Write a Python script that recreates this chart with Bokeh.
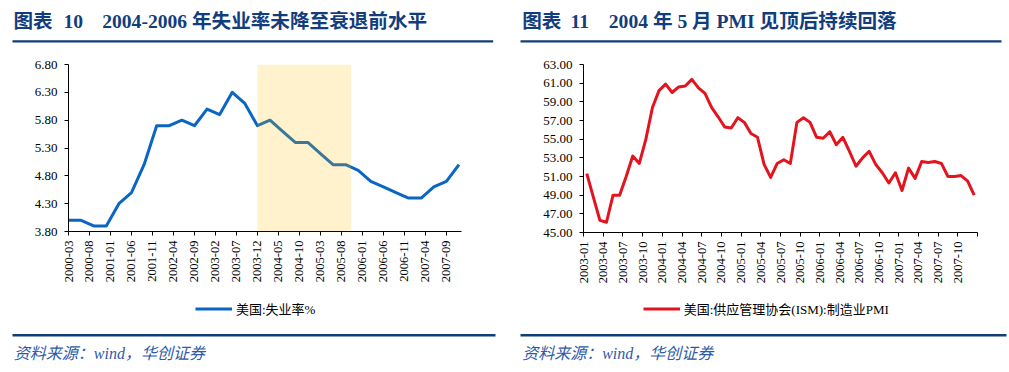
from bokeh.plotting import figure
from bokeh.models import (Range1d, FixedTicker, BoxAnnotation, Legend, LegendItem,
                          NumeralTickFormatter)
from bokeh.core.properties import value
from bokeh.layouts import row, column
from bokeh.embed import file_html
from bokeh.resources import INLINE

# ---------------- data ----------------
unemp_months = ["2000-03", "2000-06", "2000-09", "2000-12", "2001-03", "2001-06", "2001-09", "2001-12",
                "2002-03", "2002-06", "2002-09", "2002-12", "2003-03", "2003-06", "2003-09", "2003-12",
                "2004-03", "2004-06", "2004-09", "2004-12", "2005-03", "2005-06", "2005-09", "2005-12",
                "2006-03", "2006-06", "2006-09", "2006-12", "2007-03", "2007-06", "2007-09", "2007-12"]
unemp_values = [4.0, 4.0, 3.9, 3.9, 4.3, 4.5, 5.0, 5.7,
                5.7, 5.8, 5.7, 6.0, 5.9, 6.3, 6.1, 5.7,
                5.8, 5.6, 5.4, 5.4, 5.2, 5.0, 5.0, 4.9,
                4.7, 4.6, 4.5, 4.4, 4.4, 4.6, 4.7, 5.0]
unemp_ticks = ["2000-03", "2000-08", "2001-01", "2001-06", "2001-11", "2002-04", "2002-09", "2003-02",
               "2003-07", "2003-12", "2004-05", "2004-10", "2005-03", "2005-08", "2006-01", "2006-06",
               "2006-11", "2007-04", "2007-09"]
unemp_yticks = [3.8, 4.3, 4.8, 5.3, 5.8, 6.3, 6.8]
shade_period = ["2003-12", "2005-10"]

pmi_months = [f"{y}-{m:02d}" for y in range(2003, 2008) for m in range(1, 13)]
pmi_values = [51.3, 48.8, 46.3, 46.1, 49.0, 49.0, 51.0, 53.2, 52.4, 55.0, 58.4, 60.2,
              60.9, 60.0, 60.6, 60.7, 61.4, 60.5, 59.9, 58.4, 57.4, 56.3, 56.2, 57.3,
              56.8, 55.6, 55.2, 52.3, 50.9, 52.4, 52.8, 52.4, 56.8, 57.3, 56.8, 55.2,
              55.1, 55.8, 54.4, 55.2, 53.7, 52.1, 53.0, 53.7, 52.3, 51.4, 50.3, 51.4,
              49.5, 51.9, 50.8, 52.6, 52.5, 52.6, 52.4, 51.0, 51.0, 51.1, 50.5, 49.0]
pmi_ticks = ["2003-01", "2003-04", "2003-07", "2003-10", "2004-01", "2004-04", "2004-07", "2004-10",
             "2005-01", "2005-04", "2005-07", "2005-10", "2006-01", "2006-04", "2006-07", "2006-10",
             "2007-01", "2007-04", "2007-07", "2007-10"]
pmi_yticks = [45, 47, 49, 51, 53, 55, 57, 59, 61, 63]

left_title = ["图表", "10", "2004-2006 年失业率未降至衰退前水平"]
right_title = ["图表", "11", "2004 年 5 月 PMI 见顶后持续回落"]
source_text = "资料来源：wind，华创证券"
left_legend = "美国:失业率%"
right_legend = "美国:供应管理协会(ISM):制造业PMI"

# ---------------- style ----------------
LATIN = "Liberation Serif"
MIXED = "Liberation Serif, Noto Sans CJK SC"
NAVY = "#123D7C"
SRC_BLUE = "#2E5AA8"
BLUE = "#0A66C2"
RED = "#E3141E"


def midx(s, base):
    y, m = map(int, s.split("-"))
    by, bm = map(int, base.split("-"))
    return (y - by) * 12 + (m - bm)


def blank_fig(width, height):
    p = figure(width=width, height=height, output_backend="svg", toolbar_location=None,
               x_range=Range1d(0, width), y_range=Range1d(height, 0), min_border=0,
               x_axis_location=None, y_axis_location=None, frame_align=False)
    p.outline_line_color = None
    p.grid.visible = False
    p.background_fill_color = "white"
    p.border_fill_color = "white"
    return p


def header(width, parts, xs, line_l, line_r):
    h = blank_fig(width, 56)
    for t, x in zip(parts, xs):
        h.text(x=[x], y=[20.5], text=[t], text_font=value(MIXED), text_font_size="19.6px",
               text_font_style="bold", text_color=NAVY, text_baseline="middle")
    h.quad(left=[line_l], right=[line_r], top=[39.7], bottom=[41.9], fill_color=NAVY, line_color=None)
    return h


def footer(width, x0, line_l, line_r):
    f = blank_fig(width, 42)
    f.quad(left=[line_l], right=[line_r], top=[3.6], bottom=[6.0], fill_color=NAVY, line_color=None)
    f.text(x=[x0], y=[23], text=[source_text], text_font=value(MIXED), text_font_size="16px",
           text_font_style="italic", text_color=SRC_BLUE, text_baseline="middle")
    return f


def legend_strip(width, label, color, x_left):
    s = blank_fig(width, 40)
    # legend swatch source: a single off-canvas point (draws nothing itself)
    sw = s.line(x=[-10], y=[-10], line_color=color, line_width=3)
    leg = Legend(items=[LegendItem(label=label, renderers=[sw])], location=(x_left, 12.5),
                 orientation="horizontal", border_line_color=None, background_fill_alpha=0,
                 padding=0, margin=0, glyph_width=37, glyph_height=19, label_height=19,
                 label_standoff=4, label_text_font=MIXED, label_text_font_size="13px",
                 label_text_color="black", label_text_baseline="middle")
    s.add_layout(leg)
    return s


def chart_fig(width, left, right, frame_h, xr, yr):
    p = figure(width=width, height=234, output_backend="svg", toolbar_location=None,
               min_border_left=left, min_border_right=right, min_border_top=8,
               min_border_bottom=234 - 8 - frame_h, x_range=xr, y_range=yr, frame_align=False)
    p.outline_line_color = None
    p.xgrid.visible = False
    p.ygrid.visible = False
    p.background_fill_color = "white"
    p.border_fill_color = "white"
    for ax in (p.xaxis[0], p.yaxis[0]):
        ax.axis_line_color = "black"
        ax.major_tick_line_color = "black"
        ax.major_tick_in = 0
        ax.major_tick_out = 4
        ax.minor_tick_line_color = None
        ax.major_label_text_font = LATIN
        ax.major_label_text_color = "black"
    p.yaxis[0].major_label_text_font_size = "13px"
    p.yaxis[0].major_label_standoff = 7
    p.yaxis[0].formatter = NumeralTickFormatter(format="0.00")
    p.xaxis[0].major_label_text_font_size = "12.5px"
    p.xaxis[0].major_label_orientation = 1.5707963
    p.xaxis[0].major_label_standoff = 5
    return p


# ---------------- left panel (page x 0..504) ----------------
x_u = [midx(s, unemp_months[0]) for s in unemp_months]
c1 = chart_fig(504, 68, 43, 167, Range1d(0, 93.6), Range1d(unemp_yticks[0], unemp_yticks[-1]))
c1.yaxis[0].ticker = FixedTicker(ticks=unemp_yticks)
tick_pos1 = [midx(t, unemp_months[0]) for t in unemp_ticks]
c1.xaxis[0].ticker = FixedTicker(ticks=tick_pos1)
c1.xaxis[0].major_label_overrides = {k: t for k, t in zip(tick_pos1, unemp_ticks)}
c1.line(x_u, unemp_values, line_color=BLUE, line_width=3, line_join="round")
c1.add_layout(BoxAnnotation(left=midx(shade_period[0], unemp_months[0]),
                            right=midx(shade_period[1], unemp_months[0]) + 0.3,
                            fill_color="#FFC000", fill_alpha=0.2, line_color=None))
h1 = header(504, left_title, [13, 63, 101.7], 12, 492.7)
l1 = legend_strip(504, left_legend, BLUE, 195)
f1 = footer(504, 13.3, 12, 495)

# ---------------- right panel (page x 504..1009) ----------------
x_p = [midx(s, pmi_months[0]) + 0.5 for s in pmi_months]
c2 = chart_fig(505, 79, 32, 168, Range1d(0, len(pmi_months)),
               Range1d(pmi_yticks[0], pmi_yticks[-1]))
c2.yaxis[0].ticker = FixedTicker(ticks=pmi_yticks)
tick_pos2 = [midx(t, pmi_months[0]) for t in pmi_ticks]
c2.xaxis[0].ticker = FixedTicker(ticks=tick_pos2 + [len(pmi_months)])
ov2 = {k: t for k, t in zip(tick_pos2, pmi_ticks)}
ov2[len(pmi_months)] = ""
c2.xaxis[0].major_label_overrides = ov2
c2.line(x_p, pmi_values, line_color=RED, line_width=3, line_join="round")
h2 = header(505, right_title, [17.7, 66, 104.3], 16, 497)
l2 = legend_strip(505, right_legend, RED, 138.7)
f2 = footer(505, 17.7, 16, 502)

layout = row(column(h1, c1, l1, f1), column(h2, c2, l2, f2))
open("out.html", "w").write(file_html(layout, INLINE))
